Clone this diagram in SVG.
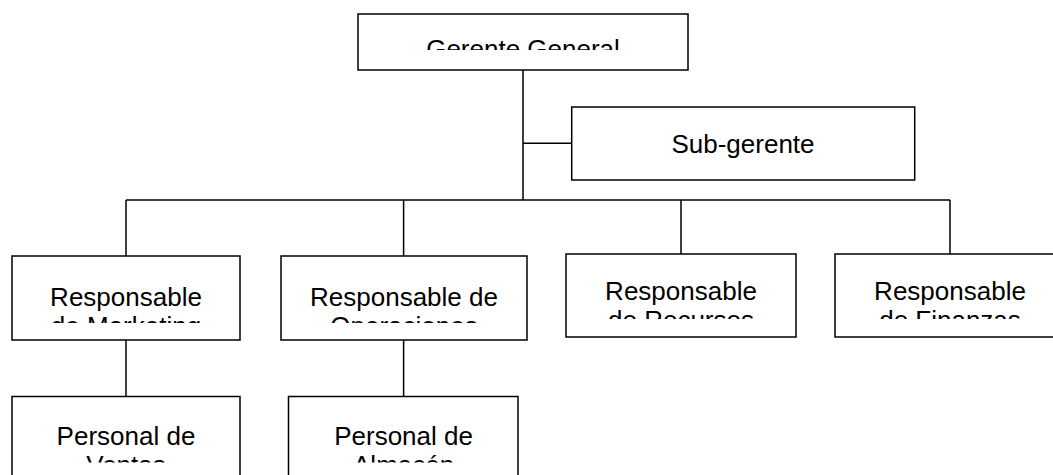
<svg xmlns="http://www.w3.org/2000/svg" width="1053" height="475" viewBox="0 0 1053 475">
<style>
.box{fill:#fff;stroke:#000;stroke-width:1.5}
.ln{fill:none;stroke:#000;stroke-width:1.5}
.t{font-family:"Liberation Sans",Arial,sans-serif;font-size:26px;fill:#000;text-anchor:middle}
</style>
<defs>
<clipPath id="c0"><rect x="358" y="14" width="330" height="36"/></clipPath>
<clipPath id="c1"><rect x="12" y="256" width="228" height="67"/></clipPath>
<clipPath id="c2"><rect x="281" y="256" width="246" height="67"/></clipPath>
<clipPath id="c3"><rect x="566" y="254" width="230" height="65"/></clipPath>
<clipPath id="c4"><rect x="835" y="254" width="230" height="65"/></clipPath>
<clipPath id="c5"><rect x="12" y="396.5" width="228" height="66"/></clipPath>
<clipPath id="c6"><rect x="288.5" y="396.5" width="229.5" height="66"/></clipPath>
</defs>
<rect width="1053" height="475" fill="#fff"/>
<g id="connectors">
<path class="ln" d="M523 70V200M523 143.3H571.7M126 200H950M126 200V256M403.6 200V256M681 200V254M950 200V254M126 340V396.5M403.6 340V396.5"/>
</g>
<g id="gerente">
<rect class="box" x="358" y="14" width="330" height="56"/>
<text class="t" x="523" y="57.5" clip-path="url(#c0)">Gerente General</text>
</g>
<g id="subgerente">
<rect class="box" x="571.7" y="107" width="343" height="73"/>
<text class="t" x="743" y="153">Sub-gerente</text>
</g>
<g id="marketing">
<rect class="box" x="12" y="256" width="228" height="84"/>
<text class="t" clip-path="url(#c1)"><tspan x="126" y="306">Responsable</tspan><tspan x="126" y="335">de Marketing</tspan></text>
</g>
<g id="operaciones">
<rect class="box" x="281" y="256" width="246" height="84"/>
<text class="t" clip-path="url(#c2)"><tspan x="404" y="306">Responsable de</tspan><tspan x="404" y="335">Operaciones</tspan></text>
</g>
<g id="recursos">
<rect class="box" x="566" y="254" width="230" height="83"/>
<text class="t" clip-path="url(#c3)"><tspan x="681" y="300">Responsable</tspan><tspan x="681" y="329">de Recursos</tspan></text>
</g>
<g id="finanzas">
<rect class="box" x="835" y="254" width="230" height="83"/>
<text class="t" clip-path="url(#c4)"><tspan x="950" y="300">Responsable</tspan><tspan x="950" y="329">de Finanzas</tspan></text>
</g>
<g id="ventas">
<rect class="box" x="12" y="396.5" width="228" height="90"/>
<text class="t" clip-path="url(#c5)"><tspan x="126" y="445">Personal de</tspan><tspan x="126" y="474">Ventas</tspan></text>
</g>
<g id="almacen">
<rect class="box" x="288.5" y="396.5" width="229.5" height="90"/>
<text class="t" clip-path="url(#c6)"><tspan x="403.6" y="445">Personal de</tspan><tspan x="403.6" y="474">Almacén</tspan></text>
</g>
</svg>
